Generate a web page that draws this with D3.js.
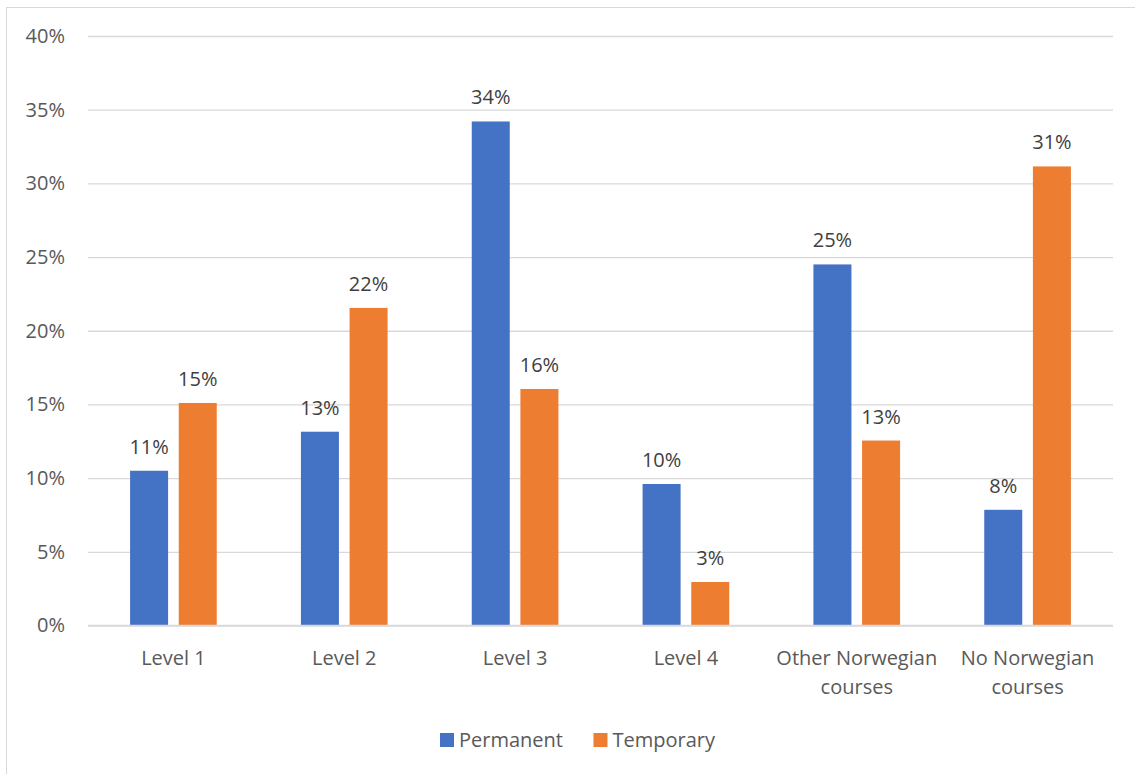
<!DOCTYPE html>
<html>
<head>
<meta charset="utf-8">
<script src="https://cdn.jsdelivr.net/npm/d3@7/dist/d3.min.js"></script>
<style>
  html, body { margin: 0; padding: 0; background: #fff; }
  svg { display: block; font-family: "Open Sans", "Noto Sans", sans-serif; }
</style>
</head>
<body>
<svg id="chart" width="1135" height="774"></svg>
<script>
// Course level categories and the share of each employment type
const categories = ["Level 1", "Level 2", "Level 3", "Level 4", "Other Norwegian courses", "No Norwegian courses"];
const seriesNames = ["Permanent", "Temporary"];
const permanent = [0.105, 0.1315, 0.342, 0.096, 0.245, 0.0785];
const temporary = [0.151, 0.2155, 0.1605, 0.0295, 0.1255, 0.3115];
const yTicks = [0, 0.05, 0.10, 0.15, 0.20, 0.25, 0.30, 0.35, 0.40];
const colors = ["#4472C4", "#ED7D31"];

const FS = 20;
const svg = d3.select("#chart");
const W = 1135, H = 774;
const plot = { left: 88, right: 1113, top: 36, bottom: 625.5 };

// outer chart frame
svg.append("rect")
  .attr("x", 6.5).attr("y", 7.5)
  .attr("width", W + 20).attr("height", H + 20)
  .attr("fill", "#fff").attr("stroke", "#d9d9d9").attr("stroke-width", 1);

const x = d3.scaleBand().domain(categories).range([plot.left, plot.right]).padding(0);
const y = d3.scaleLinear().domain([0, 0.40]).range([plot.bottom, plot.top]);

const bw = x.bandwidth();
const barW = bw * 0.2225;
const gap = barW * 0.28;

// gridlines and y labels
const yAxis = d3.axisLeft(y).tickValues(yTicks).tickFormat(d3.format(".0%"))
  .tickSize(-(plot.right - plot.left)).tickPadding(23);
const gy = svg.append("g").attr("transform", `translate(${plot.left},0)`).call(yAxis);
gy.select(".domain").remove();
gy.selectAll(".tick line").attr("stroke", "#d9d9d9").attr("stroke-width", 1.3);
gy.selectAll(".tick text").attr("fill", "#595959").attr("font-size", FS)
  .attr("font-family", "Open Sans, Noto Sans, sans-serif");

const data = categories.map((c, i) => ({ cat: c, vals: [permanent[i], temporary[i]] }));

const groups = svg.append("g").selectAll("g").data(data).join("g")
  .attr("transform", d => `translate(${x(d.cat)},0)`);

groups.selectAll("rect").data(d => d.vals.map((v, j) => ({ v, s: seriesNames[j], j })))
  .join("rect")
  .attr("x", d => bw / 2 + (d.j === 0 ? -barW - gap / 2 : gap / 2))
  .attr("width", barW)
  .attr("y", d => y(d.v))
  .attr("height", d => y(0) - y(d.v))
  .attr("fill", d => colors[d.j]);

groups.selectAll("text.lbl").data(d => d.vals.map((v, j) => ({ v, j })))
  .join("text").attr("class", "lbl")
  .attr("x", d => bw / 2 + (d.j === 0 ? -barW / 2 - gap / 2 : barW / 2 + gap / 2))
  .attr("y", d => y(d.v) - 17)
  .attr("text-anchor", "middle")
  .attr("font-size", FS)
  .attr("fill", "#404040")
  .text(d => d3.format(".0%")(d.v));

// baseline
svg.append("line")
  .attr("x1", plot.left).attr("x2", plot.right)
  .attr("y1", y(0)).attr("y2", y(0))
  .attr("stroke", "#d9d9d9").attr("stroke-width", 1.5);

// category labels, wrapped to the band width
const xAxis = d3.axisBottom(x).tickSize(0).tickPadding(0);
const gx = svg.append("g").attr("transform", `translate(0,${y(0)})`).call(xAxis);
gx.select(".domain").remove();
gx.selectAll(".tick text").each(function(d) {
  const t = d3.select(this);
  t.text(null).attr("y", 0).attr("dy", null)
    .attr("fill", "#595959").attr("font-size", FS).attr("font-family", "Open Sans, Noto Sans, sans-serif");
  const words = d.split(" ");
  const lines = [];
  let line = [];
  const probe = svg.append("text").attr("font-size", FS).attr("font-family", "Open Sans");
  words.forEach(w => {
    const trial = line.concat([w]).join(" ");
    probe.text(trial);
    if (line.length && probe.node().getComputedTextLength() > bw - 2) {
      lines.push(line.join(" "));
      line = [w];
    } else line.push(w);
  });
  lines.push(line.join(" "));
  probe.remove();
  lines.forEach((l, i) => t.append("tspan").attr("x", 0).attr("y", 39 + i * 29).text(l));
});

// legend
const legend = svg.append("g").attr("transform", "translate(440,733)");
const items = [{ name: seriesNames[0], x: 0 }, { name: seriesNames[1], x: 153.5 }];
items.forEach((it, i) => {
  legend.append("rect").attr("x", it.x).attr("y", 0).attr("width", 14).attr("height", 14).attr("fill", colors[i]);
  legend.append("text").attr("x", it.x + 19).attr("y", 14).attr("font-size", FS)
    .attr("fill", "#595959").text(it.name);
});
</script>
</body>
</html>
